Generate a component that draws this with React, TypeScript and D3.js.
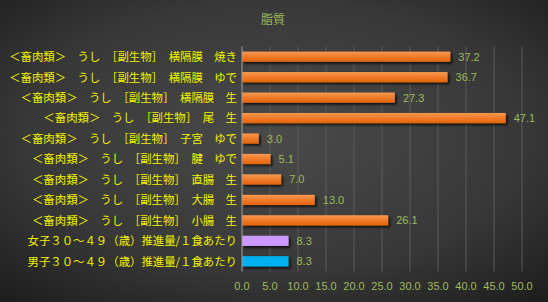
import React from "react";
import * as d3 from "d3";

const categories = [
  "＜畜肉類＞　うし　［副生物］　横隔膜　焼き",
  "＜畜肉類＞　うし　［副生物］　横隔膜　ゆで",
  "＜畜肉類＞　うし　［副生物］　横隔膜　生",
  "＜畜肉類＞　うし　［副生物］　尾　生",
  "＜畜肉類＞　うし　［副生物］　子宮　ゆで",
  "＜畜肉類＞　うし　［副生物］　腱　ゆで",
  "＜畜肉類＞　うし　［副生物］　直腸　生",
  "＜畜肉類＞　うし　［副生物］　大腸　生",
  "＜畜肉類＞　うし　［副生物］　小腸　生",
  "女子３０～４９（歳）推進量/１食あたり",
  "男子３０～４９（歳）推進量/１食あたり",
];
const values = [37.2, 36.7, 27.3, 47.1, 3.0, 5.1, 7.0, 13.0, 26.1, 8.3, 8.3];
const barKinds = ["o", "o", "o", "o", "o", "o", "o", "o", "o", "f", "m"];
const xTicks = [0, 5, 10, 15, 20, 25, 30, 35, 40, 45, 50];
const title = "脂質";

const W = 548;
const H = 302;
const left = 242;
const right = 522;
const top = 46.5;
const bottom = 271.5;

export default function App() {
  const x = d3.scaleLinear().domain([0, 50]).range([left, right]);
  const y = d3
    .scaleBand<number>()
    .domain(d3.range(categories.length))
    .range([top, bottom])
    .paddingInner(0.5)
    .paddingOuter(0.25);
  const fillFor = (k: string) =>
    k === "o" ? "url(#orangeGrad)" : k === "f" ? "#cc99ff" : "#00b0f0";
  const green = "#9bbb59";
  const jp = "'Noto Sans CJK JP', 'Noto Sans', sans-serif";
  return (
    <svg
      width={W}
      height={H}
      style={{ position: "absolute", left: 0, top: 0 }}
    >
      <defs>
        <radialGradient id="bg" cx="50%" cy="45%" r="75%">
          <stop offset="0%" stopColor="#4a4a4a" />
          <stop offset="60%" stopColor="#383838" />
          <stop offset="100%" stopColor="#1c1c1c" />
        </radialGradient>
        <linearGradient id="orangeGrad" x1="0" y1="0" x2="0" y2="1">
          <stop offset="0%" stopColor="#f79a50" />
          <stop offset="50%" stopColor="#f07a2a" />
          <stop offset="100%" stopColor="#e0650c" />
        </linearGradient>
        <filter id="shadow" x="-10%" y="-50%" width="130%" height="250%">
          <feDropShadow dx="2" dy="2" stdDeviation="1.2" floodColor="#000" floodOpacity="0.7" />
        </filter>
      </defs>
      <rect x={0} y={0} width={W} height={H} fill="url(#bg)" />
      <text
        x={273}
        y={24}
        textAnchor="middle"
        fill={green}
        fontSize={12}
        fontFamily={jp}
      >
        {title}
      </text>
      {xTicks.map((t) =>
        t === 0 ? null : (
          <line
            key={"g" + t}
            x1={x(t)}
            x2={x(t)}
            y1={top}
            y2={bottom}
            stroke="#5a5a5a"
            strokeWidth={1}
          />
        )
      )}
      {values.map((v, i) => (
        <g key={i}>
          <rect
            x={x(0)}
            y={y(i)!}
            width={x(v) - x(0)}
            height={y.bandwidth()}
            fill={fillFor(barKinds[i])}
            filter="url(#shadow)"
          />
          <text
            x={x(v) + 8}
            y={y(i)! + y.bandwidth() / 2}
            dy="0.36em"
            fill={green}
            fontSize={11}
            fontFamily="'Liberation Sans', Arial, sans-serif"
          >
            {v.toFixed(1)}
          </text>
          <text
            x={237}
            y={y(i)! + y.bandwidth() / 2}
            dy="0.38em"
            textAnchor="end"
            fill="#f2f200"
            fontSize={11.4}
            fontFamily={jp}
          >
            {categories[i]}
          </text>
        </g>
      ))}
      <line x1={x(0)} x2={x(0)} y1={top} y2={bottom} stroke="#a0a0a0" strokeWidth={1} />
      {xTicks.map((t) => (
        <text
          key={"t" + t}
          x={x(t)}
          y={290}
          textAnchor="middle"
          fill={green}
          fontSize={11}
          fontFamily="'Liberation Sans', Arial, sans-serif"
        >
          {t.toFixed(1)}
        </text>
      ))}
    </svg>
  );
}
